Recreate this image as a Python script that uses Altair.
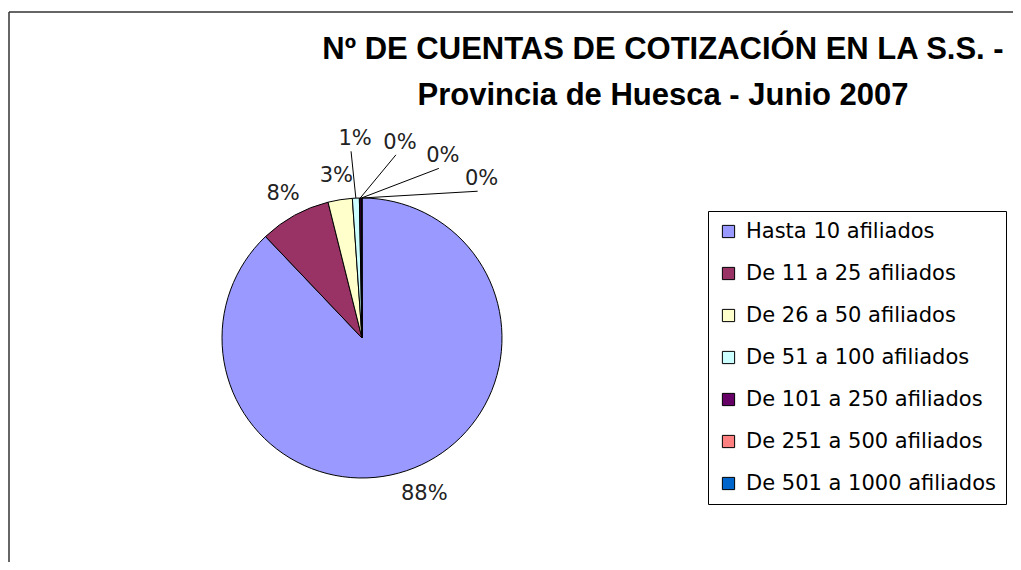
import math
import altair as alt
import pandas as pd

categories = [
    "Hasta 10 afiliados",
    "De 11 a 25 afiliados",
    "De 26 a 50 afiliados",
    "De 51 a 100 afiliados",
    "De 101 a 250 afiliados",
    "De 251 a 500 afiliados",
    "De 501 a 1000 afiliados",
]
percent = [87.9, 8.2, 2.8, 0.8, 0.2, 0.07, 0.03]
labels = ["88%", "8%", "3%", "1%", "0%", "0%", "0%"]
colors = ["#9999FF", "#993366", "#FFFFCC", "#CCFFFF", "#660066", "#FF8080", "#0066CC"]

title_lines = ["Nº DE CUENTAS DE COTIZACIÓN EN LA S.S. -", "Provincia de Huesca - Junio 2007"]

W, H = 1005, 554
CX, CY, R = 354, 330, 140
FONT = "DejaVu Sans"
TFONT = "Liberation Sans"

df = pd.DataFrame({"cat": categories, "pct": percent, "lab": labels, "idx": list(range(len(categories)))})

base = alt.Chart(df).transform_window(
    cum="sum(pct)", sort=[alt.SortField("idx")], frame=[None, 0]
).transform_calculate(
    mid="(datum.cum - datum.pct / 2) / 100 * 2 * PI",
    lang="datum.idx >= 3 ? (-2 + (datum.idx - 3) * 13) * PI / 180 : datum.mid",
    lrad=f"datum.idx >= 3 ? {R * 1.42} : (datum.idx == 0 ? {R * 1.2} : {R * 1.17})",
    lx=f"{CX} + datum.lrad * sin(datum.lang)",
    ly=f"{CY} - datum.lrad * cos(datum.lang)",
    sx=f"{CX} + {R} * sin(datum.mid)",
    sy=f"{CY} - {R} * cos(datum.mid)",
    ex="datum.lx - 4",
    ey="datum.ly + 12",
)

xs = alt.Scale(domain=[0, W], range=[0, W])
ys = alt.Scale(domain=[0, H], range=[0, H])

pie = alt.Chart(df).mark_arc(stroke="black", strokeWidth=1, radius=R).encode(
    theta=alt.Theta("pct:Q", stack=True),
    order=alt.Order("idx:Q"),
    color=alt.Color(
        "cat:N",
        scale=alt.Scale(domain=categories, range=colors),
        sort=categories,
        legend=alt.Legend(
            title=None,
            orient="none",
            legendX=700,
            legendY=203,
            direction="vertical",
            symbolType="square",
            symbolSize=150,
            symbolStrokeColor="black",
            symbolStrokeWidth=1,
            symbolOpacity=1,
            labelFont=FONT,
            labelFontSize=21,
            labelColor="black",
            labelLimit=400,
            labelOffset=7,
            rowPadding=20,
            padding=10,
            strokeColor="black",
            fillColor="white",
        ),
    ),
    x=alt.value(CX),
    y=alt.value(CY),
)

leaders = base.transform_filter("datum.idx >= 3").mark_rule(color="black", strokeWidth=1).encode(
    x=alt.X("sx:Q", scale=xs, axis=None),
    y=alt.Y("sy:Q", scale=ys, axis=None),
    x2="ex:Q",
    y2="ey:Q",
)

text = base.mark_text(font=FONT, fontSize=21, color="#222222").encode(
    x=alt.X("lx:Q", scale=xs, axis=None),
    y=alt.Y("ly:Q", scale=ys, axis=None),
    text="lab:N",
)

tdf = pd.DataFrame({"t": title_lines, "i": [0, 1]})
title = alt.Chart(tdf).mark_text(font=TFONT, fontSize=31, fontWeight="bold", color="black", baseline="middle").encode(
    x=alt.value(655),
    y=alt.Y("i:Q", scale=alt.Scale(domain=[0, 1], range=[42, 88]), axis=None),
    text="t:N",
)

frame_top = alt.Chart(tdf.head(1)).mark_rule(color="#333333", strokeWidth=1.5).encode(
    x=alt.value(1), x2=alt.value(W), y=alt.value(4)
)
frame_left = alt.Chart(tdf.head(1)).mark_rule(color="#333333", strokeWidth=1.5).encode(
    x=alt.value(1), y=alt.value(4), y2=alt.value(H)
)

chart = alt.layer(frame_top, frame_left, pie, leaders, text, title).properties(
    width=W, height=H, padding=0,
    autosize=alt.AutoSizeParams(type="fit", contains="padding"),
).configure_view(stroke=None).resolve_scale(y="independent")

chart.save("out.html", embed_options={"renderer": "svg", "actions": False})
